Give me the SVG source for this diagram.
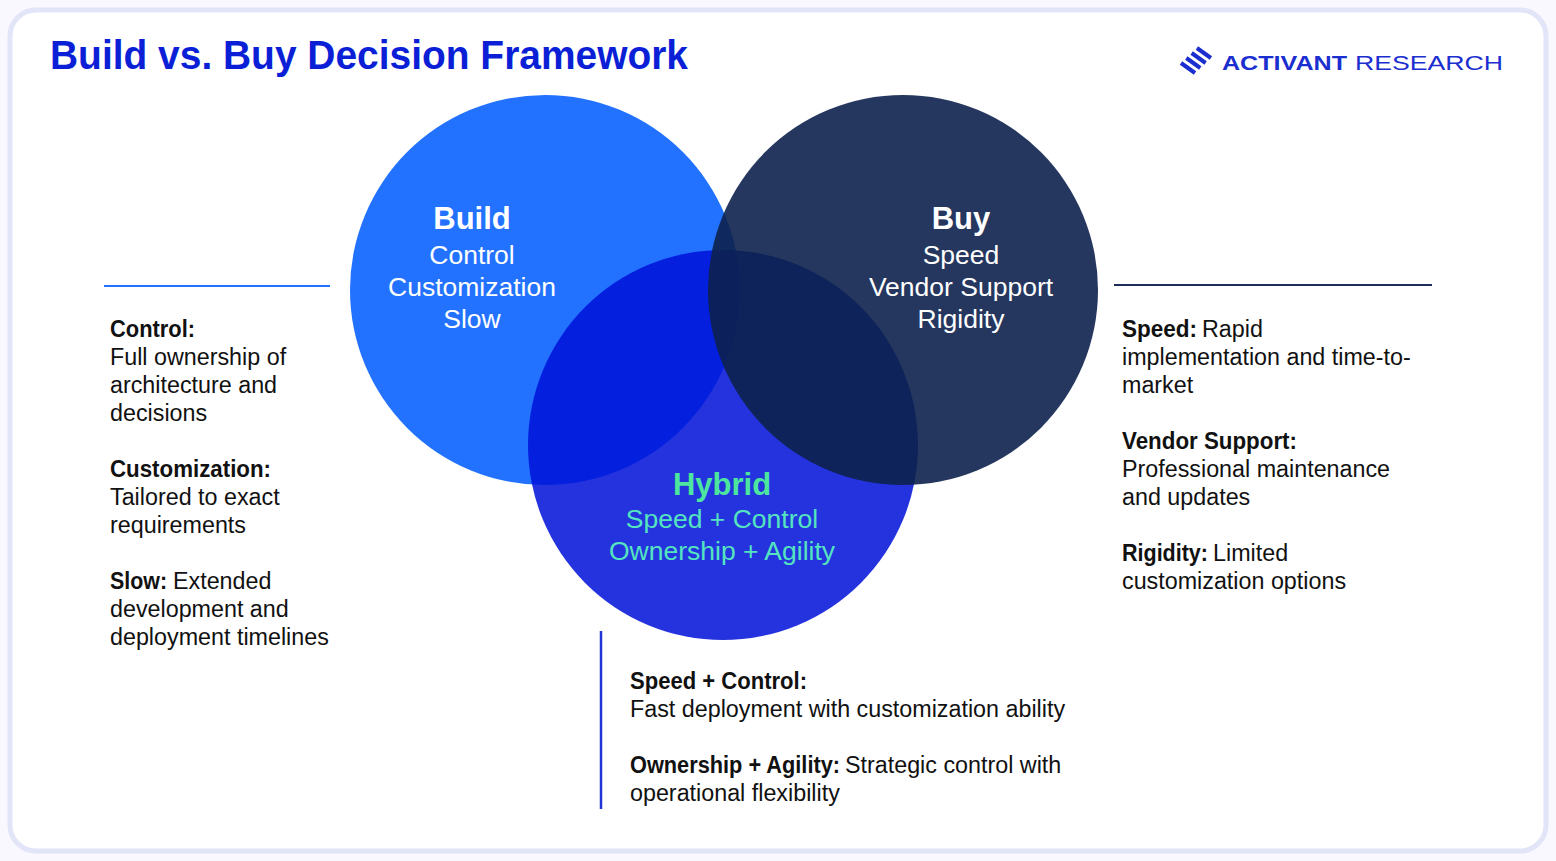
<svg xmlns="http://www.w3.org/2000/svg" width="1556" height="861" viewBox="0 0 1556 861">
  <style>
    .body { font-family: "Liberation Sans", Arial, sans-serif; font-size: 23.3px; fill: #111111; }
    .b { font-weight: 700; }
    .ctitle { font-family: "Liberation Sans", Arial, sans-serif; font-size: 31px; font-weight: 700; text-anchor: middle; }
    .csub { font-family: "Liberation Sans", Arial, sans-serif; font-size: 26.5px; text-anchor: middle; }
    .logo { font-family: "Liberation Sans", Arial, sans-serif; font-size: 20px; fill: #1B2ECF; }
  </style>
  <rect x="0" y="0" width="1556" height="861" fill="#F8F8FE"/>
  <rect x="10" y="10" width="1536" height="841" rx="26" ry="26" fill="#FFFFFF" stroke="#E2E4F8" stroke-width="5"/>

  <text x="50" y="69" font-family="'Liberation Sans', Arial, sans-serif" font-size="41" font-weight="700" fill="#0B1FD6" textLength="638" lengthAdjust="spacingAndGlyphs">Build vs. Buy Decision Framework</text>

  <g id="logo">
    <g stroke="#1B2ECF" stroke-width="4" stroke-linecap="butt">
      <line x1="1181" y1="63" x2="1195" y2="73"/>
      <line x1="1186.3" y1="58" x2="1200.3" y2="68"/>
      <line x1="1191.6" y1="53" x2="1205.6" y2="63"/>
      <line x1="1196.9" y1="48" x2="1210.9" y2="58"/>
    </g>
    <text class="logo" x="1222" y="70" font-weight="700" textLength="125" lengthAdjust="spacingAndGlyphs">ACTIVANT</text>
    <text class="logo" x="1355" y="70" textLength="148" lengthAdjust="spacingAndGlyphs">RESEARCH</text>
  </g>

  <g id="build">
    <circle cx="545" cy="290" r="195" fill="#2272FF"/>
  </g>
  <g id="hybrid">
    <circle cx="723" cy="445" r="195" fill="#0012D8" fill-opacity="0.86"/>
    <text class="ctitle" x="722" y="495" fill="#4CE69E">Hybrid</text>
    <text class="csub" x="722" y="528" fill="#55E4C0">Speed + Control</text>
    <text class="csub" x="722" y="560" fill="#55E4C0">Ownership + Agility</text>
  </g>
  <g id="buy">
    <circle cx="903" cy="290" r="195" fill="#0D214D" fill-opacity="0.9"/>
    <text class="ctitle" x="961" y="229" fill="#FFFFFF">Buy</text>
    <text class="csub" x="961" y="264" fill="#FFFFFF">Speed</text>
    <text class="csub" x="961" y="296" fill="#FFFFFF">Vendor Support</text>
    <text class="csub" x="961" y="328" fill="#FFFFFF">Rigidity</text>
  </g>
  <g id="build-label">
    <text class="ctitle" x="472" y="229" fill="#FFFFFF">Build</text>
    <text class="csub" x="472" y="264" fill="#FFFFFF">Control</text>
    <text class="csub" x="472" y="296" fill="#FFFFFF">Customization</text>
    <text class="csub" x="472" y="328" fill="#FFFFFF">Slow</text>
  </g>

  <g id="connectors" stroke-linecap="butt">
    <line x1="104" y1="286" x2="330" y2="286" stroke="#2272FF" stroke-width="2"/>
    <line x1="1114" y1="285" x2="1432" y2="285" stroke="#1E2D55" stroke-width="2"/>
    <line x1="601" y1="631" x2="601" y2="809" stroke="#1F35D8" stroke-width="2.5"/>
  </g>

  <g id="build-details">
    <text class="body b" x="110" y="337" textLength="85" lengthAdjust="spacingAndGlyphs">Control:</text>
    <text class="body" x="110" y="365">Full ownership of</text>
    <text class="body" x="110" y="393">architecture and</text>
    <text class="body" x="110" y="421">decisions</text>
    <text class="body b" x="110" y="477" textLength="161" lengthAdjust="spacingAndGlyphs">Customization:</text>
    <text class="body" x="110" y="505">Tailored to exact</text>
    <text class="body" x="110" y="533">requirements</text>
    <text class="body b" x="110" y="589" textLength="57" lengthAdjust="spacingAndGlyphs">Slow:</text>
    <text class="body" x="173" y="589">Extended</text>
    <text class="body" x="110" y="617">development and</text>
    <text class="body" x="110" y="645">deployment timelines</text>
  </g>

  <g id="buy-details">
    <text class="body b" x="1122" y="337" textLength="75" lengthAdjust="spacingAndGlyphs">Speed:</text>
    <text class="body" x="1202" y="337">Rapid</text>
    <text class="body" x="1122" y="365">implementation and time-to-</text>
    <text class="body" x="1122" y="393">market</text>
    <text class="body b" x="1122" y="449" textLength="175" lengthAdjust="spacingAndGlyphs">Vendor Support:</text>
    <text class="body" x="1122" y="477">Professional maintenance</text>
    <text class="body" x="1122" y="505">and updates</text>
    <text class="body b" x="1122" y="561" textLength="86" lengthAdjust="spacingAndGlyphs">Rigidity:</text>
    <text class="body" x="1213" y="561">Limited</text>
    <text class="body" x="1122" y="589">customization options</text>
  </g>

  <g id="hybrid-details">
    <text class="body b" x="630" y="689" textLength="177" lengthAdjust="spacingAndGlyphs">Speed + Control:</text>
    <text class="body" x="630" y="717">Fast deployment with customization ability</text>
    <text class="body b" x="630" y="773" textLength="210" lengthAdjust="spacingAndGlyphs">Ownership + Agility:</text>
    <text class="body" x="845" y="773">Strategic control with</text>
    <text class="body" x="630" y="801">operational flexibility</text>
  </g>
</svg>
